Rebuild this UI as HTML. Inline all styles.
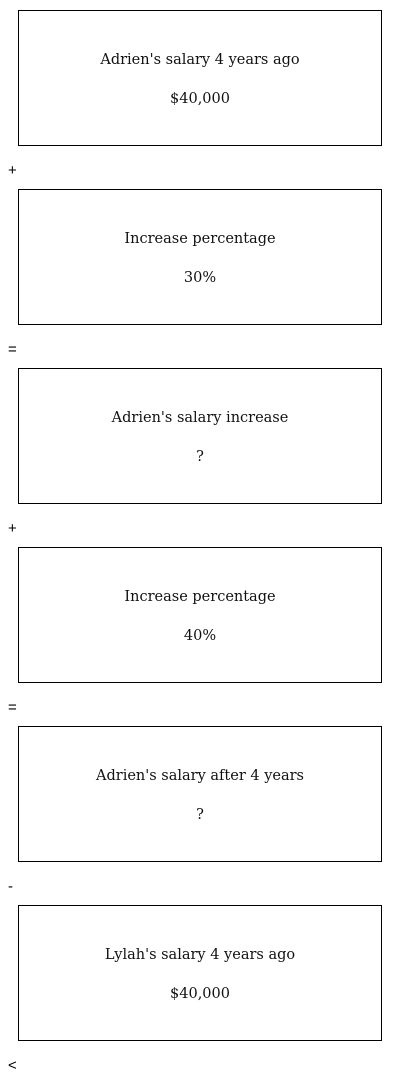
<!DOCTYPE html>
<html><head><meta charset="utf-8"><style>
body{margin:0;width:400px;height:1082px;background:#fff;position:relative;overflow:hidden}
.box{position:absolute;left:18px;width:362px;height:134px;border:1px solid #000;font-family:"DejaVu Serif","Liberation Serif",serif;font-size:14.5px;color:#111;text-align:center}
.t{position:absolute;left:0;right:0;top:39px;line-height:20px}
.v{position:absolute;left:0;right:0;top:78px;line-height:20px}
.op{position:absolute;left:8px;font-family:"Liberation Sans",sans-serif;font-size:15px;line-height:16px;color:#000}
</style></head><body>
<div id="root"></div>
<script>
const titles=["Adrien's salary 4 years ago","Increase percentage","Adrien's salary increase","Increase percentage","Adrien's salary after 4 years","Lylah's salary 4 years ago"];
const values=["$40,000","30%","?","40%","?","$40,000"];
const ops=["+","=","+","=","-","<"];
const root=document.getElementById('root');
for(let i=0;i<titles.length;i++){
  const b=document.createElement('div');
  b.className='box';
  b.style.top=(10+179*i)+'px';
  
  
  const t=document.createElement('div');t.className='t';t.textContent=titles[i];
  
  
  const v=document.createElement('div');v.className='v';v.textContent=values[i];
  
  
  b.appendChild(t);b.appendChild(v);root.appendChild(b);
  const o=document.createElement('div');o.className='op';
  o.style.top=(163+179*i)+'px';o.textContent=ops[i];
  
  
  root.appendChild(o);
}
</script>
</body></html>
